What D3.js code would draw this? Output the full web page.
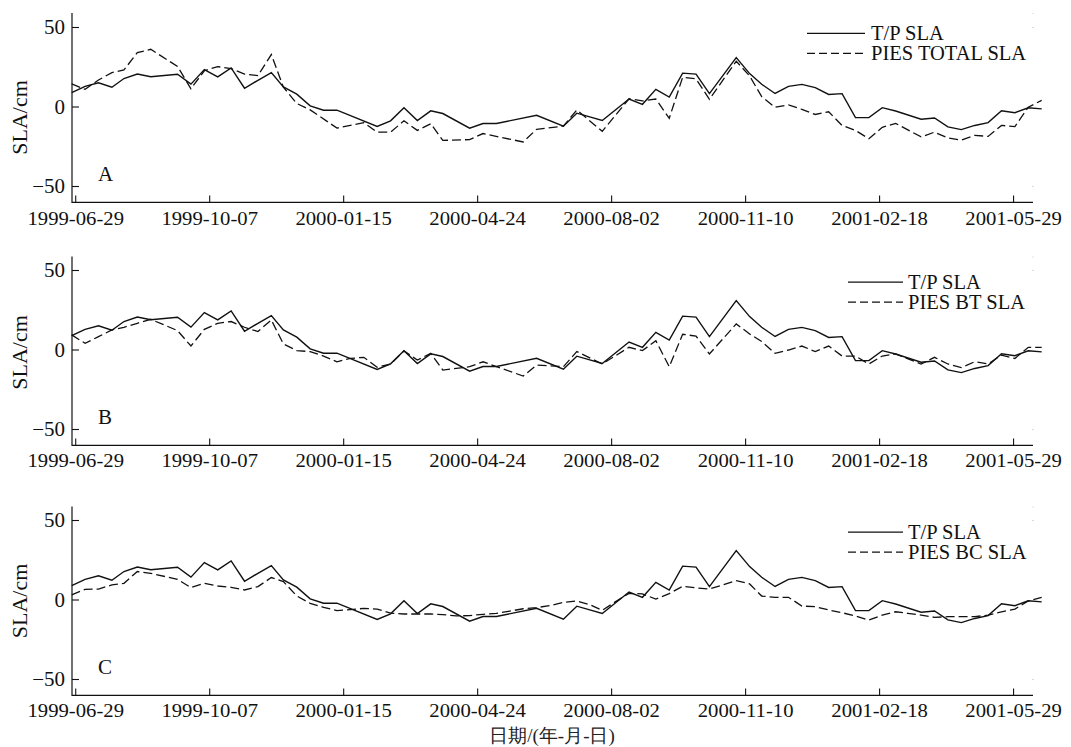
<!DOCTYPE html>
<html><head><meta charset="utf-8">
<script src="https://cdn.jsdelivr.net/npm/d3@7"></script>
<style>body{margin:0;background:#fff} svg{display:block} text{font-family:"Liberation Serif","Times New Roman",serif}</style>
</head><body>
<svg id="c" width="1071" height="747"></svg>
<script>
// ---------------- data ----------------
const dates = [
 "1999-06-26","1999-07-06","1999-07-16","1999-07-26","1999-08-04","1999-08-14","1999-08-24","1999-09-03",
 "1999-09-13","1999-09-23","1999-10-03","1999-10-13","1999-10-23","1999-11-02","1999-11-12","1999-11-22",
 "1999-12-01","1999-12-11","1999-12-21","1999-12-31","2000-01-10","2000-01-20","2000-01-30","2000-02-09",
 "2000-02-19","2000-02-29","2000-03-10","2000-03-20","2000-03-29","2000-04-08","2000-04-18","2000-04-28",
 "2000-05-08","2000-05-18","2000-05-28","2000-06-07","2000-06-17","2000-06-27","2000-07-07","2000-07-17",
 "2000-07-26","2000-08-05","2000-08-15","2000-08-25","2000-09-04","2000-09-14","2000-09-24","2000-10-04",
 "2000-10-14","2000-10-24","2000-11-03","2000-11-13","2000-11-22","2000-12-02","2000-12-12","2000-12-22",
 "2001-01-01","2001-01-11","2001-01-21","2001-01-31","2001-02-10","2001-02-20","2001-03-02","2001-03-11",
 "2001-03-21","2001-03-31","2001-04-10","2001-04-20","2001-04-30","2001-05-10","2001-05-20","2001-05-30",
 "2001-06-09","2001-06-19"];

const tpSLA = [
 9, 13, 15.2, 12.4, 17.9, 20.7, 19.0, null, 20.6, 14.4, 23.5, 18.9, 24.6, 11.8, 16.8, 21.6,
 12.6, 8.1, 0.7, -2.0, -2.0, null, null, -12.2, -8.7, -0.5, -8.5, -2.4, -4.1, null, -13.3, -10.4,
 -10.4, null, null, -5.2, null, -12.1, -3.9, null, -8.5, null, 5.0, 1.7, 11.1, 6.2, 21.3, 20.7,
 8.4, null, 31.1, 21, 14.3, 8.5, 13, 14.2, 12.2, 7.9, 8.4, -6.7, -6.7, -0.4, -2.5, null,
 -7.7, -6.9, -12.5, -14.2, -11.6, -9.8, -2.4, -3.6, -0.5, -1.2];

const piesTotalSLA = [
 14.5, 11.1, 17, 21.6, 23.3, 34.2, 36.3, null, 25.5, 11.5, 22.8, 25.4, 24.1, 20.7, 19.7, 33,
 12.5, 2.2, -1.8, null, -13.3, null, -9.8, -15.8, -15.8, -8.7, -14.7, -10.5, -21, null, -20.5, -16.7,
 null, null, -22, -14, null, -12, -1.9, null, -15.3, null, 5.2, 3.8, 5, -7.1, 18.7, 17.7,
 4.8, null, 28.8, 19.5, 6.5, -0.2, 1.3, -1.5, -4.7, -3, -11.6, -14.7, -20, -12.8, -10.3, null,
 -18.8, -15.8, -19.5, -20.8, -17.8, -18.5, -11.6, -12.3, -0.1, 4.2];

const piesBTSLA = [
 9.5, 4.2, 8.4, 12.6, 14.3, 16.8, 19.3, null, 12.2, 2.5, 13, 16.8, 17.9, 14.3, 11.6, 18.9,
 3.8, -0.4, -1, -3.8, -7.4, -5.3, -4.6, -10.9, -8.8, -0.6, -6.3, -2.1, -12.6, null, -10.5, -7.4,
 null, null, -16.4, -9.5, null, -10.5, -1, null, -8.8, null, 1.7, -0.4, 5.9, -10.5, 9.9, 8.7,
 -2.5, null, 16.4, 10.1, 5.3, -2.1, 0, 2.5, -1, 2.5, -3.8, -3.8, -8.8, -3.8, -2.5, null,
 -8.8, -4.6, -8.8, -11.1, -7.4, -8.8, -3.2, -5.3, 1.7, 1.7];

const piesBCSLA = [
 3.2, 6.7, 6.9, 9.5, 10.5, 17.9, 16.8, null, 13, 7.8, 10.5, 8.8, 8, 6.3, 8.4, 14.1,
 11.6, 2.5, -2.1, -4.6, -6.7, -6, -5.3, -5.7, -8.3, -8.8, -8.8, -8.8, -9.2, -10, -9.8, -9,
 -8.4, -7, -5.5, -4.8, -3.5, -1.5, -0.6, -3, -6.5, -1, 4.2, 3.8, 0.6, 4, 8.6, 7.6,
 6.9, 9.5, 12.2, 10.1, 2.5, 1.7, 1.7, -3.8, -4.2, -6.3, -8, -10.1, -12.6, -9.5, -7.4, -8.4,
 -9.5, -10.9, -10.5, -10.5, -10.5, -9.5, -7.4, -5.7, -0.6, 1.7];

const tickDates = ["1999-06-29","1999-10-07","2000-01-15","2000-04-24","2000-08-02","2000-11-10","2001-02-18","2001-05-29"];
const yTicks = [-50, 0, 50];
const panelLetters = ["A", "B", "C"];
const legendNames = ["PIES TOTAL SLA", "PIES BT SLA", "PIES BC SLA"];
const tpName = "T/P SLA";
const xTitle = "日期/(年-月-日)";
const yTitle = "SLA/cm";

// ---------------- layout ----------------
const svg = d3.select("#c");
const parse = d3.utcParse("%Y-%m-%d");
const serif = "Liberation Serif, Times New Roman, serif";
const x = d3.scaleUtc().domain([parse(dates[0]), parse(dates[dates.length - 1])]).range([71.7, 1041.7]);
const axisLeft = 72, axisRight = 1033;

const layout = [
  {zero: 107, top: 13, legX1: 807, legX2: 865, legTx: 871, legY1: 33.3, legY2: 53.3, yLab: 117.5, tickOff: 23},
  {zero: 350, top: 256.5, legX1: 848, legX2: 903, legTx: 908, legY1: 282.2, legY2: 302.2, yLab: 352.5, tickOff: 21.5},
  {zero: 600, top: 506.5, legX1: 848, legX2: 903, legTx: 908, legY1: 532.2, legY2: 552.2, yLab: 601, tickOff: 22}
];
const seriesList = [piesTotalSLA, piesBTSLA, piesBCSLA];

function hText(g, txt, px, py, size, anchor, sx) {
  return g.append("text")
    .attr("transform", `translate(${px},${py}) scale(${sx || 1},1)`)
    .attr("text-anchor", anchor || "start")
    .attr("font-family", serif).attr("font-size", size).attr("fill", "#111")
    .text(txt);
}

layout.forEach((L, i) => {
  const unit = 1.59;
  const bottom = L.zero + 60 * unit;
  const y = d3.scaleLinear().domain([-60, 60]).range([bottom, L.zero - 60 * unit]);
  const g = svg.append("g");

  // spines
  g.append("line").attr("x1", axisLeft).attr("x2", axisLeft).attr("y1", L.top).attr("y2", bottom + 0.5)
    .attr("stroke", "#111").attr("stroke-width", 1.2);
  g.append("line").attr("x1", axisLeft).attr("x2", axisRight).attr("y1", bottom).attr("y2", bottom)
    .attr("stroke", "#111").attr("stroke-width", 1.2);

  // faint right-corner marks
  [50, -50].forEach(v => g.append("rect").attr("x", axisRight - 0.5).attr("y", y(v) - 0.5)
    .attr("width", 1).attr("height", 1).attr("fill", "#bbb"));
  g.append("rect").attr("x", axisRight - 0.5).attr("y", L.top).attr("width", 1).attr("height", 1).attr("fill", "#ccc");

  // y ticks
  yTicks.forEach(v => {
    g.append("line").attr("x1", axisLeft).attr("x2", axisLeft + 7).attr("y1", y(v)).attr("y2", y(v))
      .attr("stroke", "#111").attr("stroke-width", 1.1);
    hText(g, v < 0 ? "\u2212" + Math.abs(v) : String(v), 65, y(v) + 6.5, 20, "end", 1.05);
  });

  // x ticks
  tickDates.forEach(d => {
    const px = x(parse(d));
    g.append("line").attr("x1", px).attr("x2", px).attr("y1", bottom).attr("y2", bottom - 7)
      .attr("stroke", "#111").attr("stroke-width", 1.1);
    hText(g, d, px, bottom + L.tickOff, 19, "middle", 1.09);
  });

  // y title
  g.append("text").attr("transform", `translate(27,${L.yLab}) rotate(-90)`)
    .attr("text-anchor", "middle").attr("font-family", serif).attr("font-size", 22).attr("fill", "#111")
    .text(yTitle);

  // panel letter
  hText(g, panelLetters[i], 98, L.zero + 73.5, 21, "start");

  // lines
  const line = d3.line().x(d => x(d.date)).y(d => y(d.v));
  const tpData = dates.map((d, k) => ({date: parse(d), v: tpSLA[k]})).filter(d => d.v !== null);
  const psData = dates.map((d, k) => ({date: parse(d), v: seriesList[i][k]})).filter(d => d.v !== null);
  g.append("path").datum(psData).attr("d", line).attr("fill", "none")
    .attr("stroke", "#111").attr("stroke-width", 1.3).attr("stroke-dasharray", "9,4");
  g.append("path").datum(tpData).attr("d", line).attr("fill", "none")
    .attr("stroke", "#111").attr("stroke-width", 1.4);

  // legend
  g.append("line").attr("x1", L.legX1).attr("x2", L.legX2).attr("y1", L.legY1).attr("y2", L.legY1)
    .attr("stroke", "#111").attr("stroke-width", 1.3);
  g.append("line").attr("x1", L.legX1).attr("x2", L.legX2).attr("y1", L.legY2).attr("y2", L.legY2)
    .attr("stroke", "#111").attr("stroke-width", 1.3).attr("stroke-dasharray", "8,4");
  hText(g, tpName, L.legTx, L.legY1 + 6.5, 20.5, "start");
  hText(g, legendNames[i], L.legTx, L.legY2 + 6.5, 20.5, "start");
});

// x title
svg.append("text").attr("x", 552).attr("y", 741.5).attr("text-anchor", "middle")
  .attr("font-family", "Noto Sans CJK SC, sans-serif").attr("font-size", 19).attr("fill", "#222")
  .text(xTitle);
</script>
</body></html>
